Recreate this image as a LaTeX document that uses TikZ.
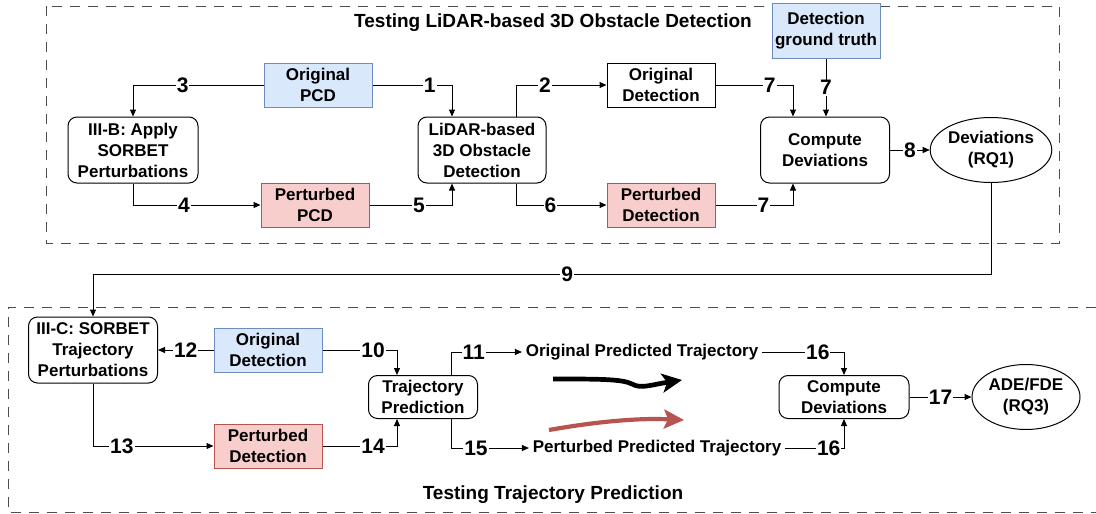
\documentclass[tikz,border=0pt]{standalone}
\usepackage{fontspec}
\setmainfont{Liberation Sans}
\usetikzlibrary{arrows.meta,shapes.geometric,positioning}
\definecolor{bluefill}{HTML}{DAE8FC}
\definecolor{blueline}{HTML}{6C8EBF}
\definecolor{redfill}{HTML}{F8CECC}
\definecolor{redline}{HTML}{B85450}
\begin{document}
\begin{tikzpicture}[x=1pt,y=-1pt,line width=1pt,
	every node/.style={font=\fontsize{17}{21}\selectfont\bfseries, align=center},
	box/.style={draw, minimum width=108, minimum height=44, inner sep=0},
	bluebox/.style={box, draw=blueline, fill=bluefill},
	redbox/.style={box, draw=redline, fill=redfill},
	round/.style={draw, rounded corners=9, minimum width=129, minimum height=66, inner sep=0},
	oval/.style={draw, ellipse, minimum width=108, minimum height=65, inner sep=0},
	title/.style={font=\fontsize{19}{22}\selectfont\bfseries},
	num/.style={fill=white, inner sep=1pt, font=\fontsize{21}{21}\selectfont\bfseries},
	arr/.style={-{Triangle[length=7pt,width=6pt]}},
	frame/.style={dashed, dash pattern=on 10pt off 8pt, black!70}]
		\useasboundingbox (0,0) rectangle (1096,514);
		\draw[frame] (46,6) rectangle (1059,243);
		\draw[frame] (1096,307) -- (8,307) -- (8,512) -- (1096,512);
		\node[title] (toptitle) at (553,23) {Testing LiDAR-based 3D Obstacle Detection};
		\node[title] (bottitle) at (553,495) {Testing Trajectory Prediction};
		\node[bluebox] (pcd) at (318,85) {Original\\PCD};
		\node[redbox] (ppcd) at (315,205) {Perturbed\\PCD};
		\node[round, minimum width=130] (sorbet) at (133,150) {III-B: Apply\\SORBET\\Perturbations};
		\node[round, minimum width=128] (lidar) at (482,150) {LiDAR-based\\3D Obstacle\\Detection};
		\node[box] (odet) at (661,85) {Original\\Detection};
		\node[redbox] (pdet) at (661,205) {Perturbed\\Detection};
		\node[bluebox, minimum height=55] (truth) at (826,31) {Detection\\ground truth};
		\node[round] (cmp) at (825,150) {Compute\\Deviations};
		\node[oval] (devs) at (991,150) {Deviations\\(RQ1)};
		\node[round] (sorbet2) at (93,350) {III-C: SORBET\\Trajectory\\Perturbations};
		\node[bluebox] (odet2) at (268,350) {Original\\Detection};
		\node[redbox] (pdet2) at (268,446) {Perturbed\\Detection};
		\node[round, minimum width=109, minimum height=43] (traj) at (423,397) {Trajectory\\Prediction};
		\node (otraj) at (642,352) {Original Predicted Trajectory};
		\node (ptraj) at (657,448) {Perturbed Predicted Trajectory};
		\node[round, minimum width=130, minimum height=43] (cmp2) at (844,397) {Compute\\Deviations};
		\node[oval] (ade) at (1026,397) {ADE/FDE\\(RQ3)};
		\coordinate (turn) at (devs.south |- 0,274);
		\draw[arr] (pcd.east) -| node[num,pos=0.36]{1} ([xshift=-30pt]lidar.north);
		\draw[arr] ([xshift=34pt]lidar.north) |- node[num,pos=0.66]{2} (odet.west);
		\draw[arr] (pcd.west) -| node[num,pos=0.31]{3} (sorbet.north);
		\draw[arr] (sorbet.south) |- node[num,pos=0.7]{4} (ppcd.west);
		\draw[arr] (ppcd.east) -| node[num,pos=0.3]{5} ([xshift=-30pt]lidar.south);
		\draw[arr] ([xshift=34pt]lidar.south) |- node[num,pos=0.69]{6} (pdet.west);
		\draw[arr] (odet.east) -| node[num,pos=0.35]{7} ([xshift=-32pt]cmp.north);
		\draw[arr] (truth.south) -- node[num]{7} (truth.south |- cmp.north);
		\draw[arr] (pdet.east) -| node[num,pos=0.31]{7} ([xshift=-32pt]cmp.south);
		\draw[arr] (cmp) -- node[num]{8} (devs);
		\draw[arr] (devs.south) -- (turn) -| node[num,pos=0.236]{9} (sorbet2.north);
		\draw[arr] (odet2.east) -| node[num,pos=0.34]{10} ([xshift=-26pt]traj.north);
		\draw[arr] ([xshift=28pt]traj.north) |- node[num,pos=0.66]{11} (otraj.west);
		\draw[arr] (odet2) -- node[num]{12} (sorbet2);
		\draw[arr] (sorbet2.south) |- node[num,pos=0.62]{13} (pdet2.west);
		\draw[arr] (pdet2.east) -| node[num,pos=0.34]{14} ([xshift=-26pt]traj.south);
		\draw[arr] ([xshift=28pt]traj.south) |- node[num,pos=0.66]{15} (ptraj.west);
		\draw[arr] (otraj.east) -| node[num,pos=0.34]{16} (cmp2.north);
		\draw[arr] (ptraj.east) -| node[num,pos=0.37]{16} (cmp2.south);
		\draw[arr] (cmp2) -- node[num]{17} (ade);
		\draw[line width=4.7pt, -{Stealth[length=20pt,width=19pt,inset=5pt]}] (553,379) .. controls (600,379) and (622,379) .. (632,384) .. controls (641,389) and (650,385) .. (682,380);
		\draw[redline, line width=4.2pt, -{Stealth[length=20pt,width=19pt,inset=4pt]}] (549,430) .. controls (600,421) and (640,418) .. (684,420);
	\end{tikzpicture}
\end{document}
